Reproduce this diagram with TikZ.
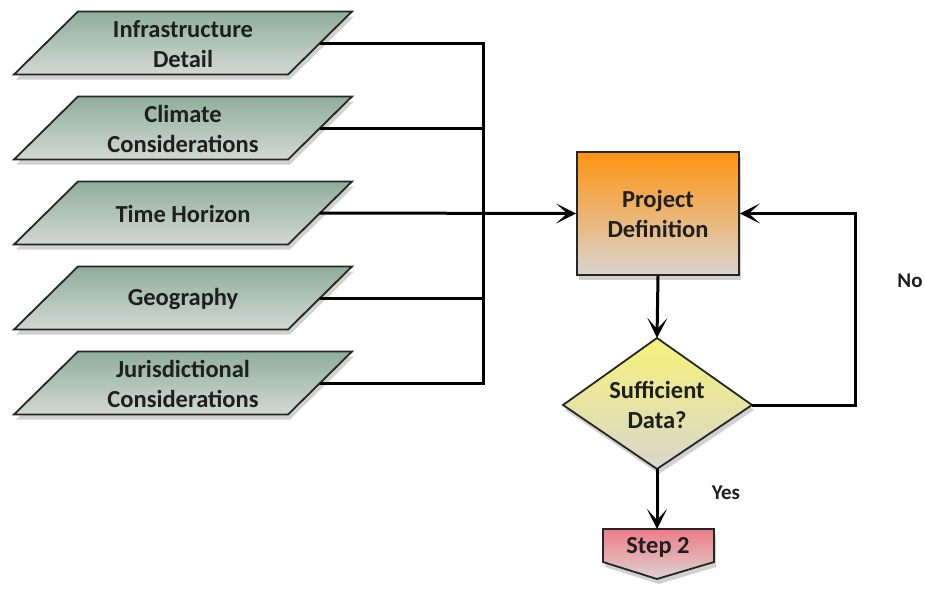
\documentclass[tikz,border=0pt]{standalone}
\usepackage{fontspec}
\setmainfont{Carlito}
\usetikzlibrary{arrows.meta,shadows}
\definecolor{pgtop}{HTML}{8FAE9C}
\definecolor{pgbot}{HTML}{D3D8D5}
\definecolor{pdtop}{HTML}{FF9410}
\definecolor{pdbot}{HTML}{D9D4D0}
\definecolor{dmtop}{HTML}{F6F27A}
\definecolor{dmbot}{HTML}{D8D6CC}
\definecolor{sttop}{HTML}{EE7C86}
\definecolor{stbot}{HTML}{DCD2D2}
\tikzset{
  lbl/.style={font=\fontsize{24.5}{30}\selectfont\bfseries, text=black!88, align=center},
  sidelbl/.style={font=\fontsize{21}{24}\selectfont\bfseries, text=black!88},
  shp/.style={draw=black!85, line width=1.8pt, line join=miter,
    drop shadow={shadow xshift=2pt, shadow yshift=-5pt, opacity=0.3, fill=black!60}},
  inshape/.style={shp, top color=pgtop, bottom color=pgbot},
  conn/.style={draw=black, line width=3pt},
  arr/.style={conn, -{Stealth[length=20pt,width=20pt,inset=11pt]}}
}
\begin{document}
\begin{tikzpicture}[x=1pt,y=-1pt]
\useasboundingbox (0,0) rectangle (925,589);
% input parallelograms
\foreach \yc/\nm in {43/a,128/b,213/c,298/d,383/e}{
  \path[inshape] (78,\yc-31.5) -- (352,\yc-31.5) -- (288,\yc+31.5) -- (14,\yc+31.5) -- cycle;
  \coordinate (\nm e) at (320,\yc);
}
\node[lbl] (a) at (183,44) {Infrastructure\\Detail};
\node[lbl] (b) at (183,129) {Climate\\Considerations};
\node[lbl] (c) at (183,214) {Time Horizon};
\node[lbl] (d) at (183,299) {Geography};
\node[lbl] (e) at (183,384) {Jurisdictional\\Considerations};
% project definition
\node[shp, top color=pdtop, bottom color=pdbot, minimum width=162pt, minimum height=123pt, inner sep=0pt, lbl] (pd) at (658,213.5) {Project\\Definition};
% diamond
\path[shp, top color=dmtop, bottom color=dmbot] (657,338) -- (752,405) -- (657,469) -- (563,405) -- cycle;
\node[lbl] (sd) at (657,405) {Sufficient\\Data?};
\coordinate (sdt) at (657,338);
\coordinate (sdr) at (752,405);
\coordinate (sdb) at (657,469);
% step 2
\path[shp, top color=sttop, bottom color=stbot] (603,529) -- (714,529) -- (714,562) -- (657,579) -- (603,562) -- cycle;
\node[lbl] (s2) at (658,547) {Step 2};
\coordinate (s2t) at (657,529);
% bus
\coordinate (bt) at (483,43);
\coordinate (bb) at (483,383);
\draw[conn] (ae) -- (bt) -- (bb) -- (ee);
\draw[conn] (be) -- (483,128);
\draw[conn] (de) -- (483,298);
\draw[arr] (ce) -- (pd.west);
\draw[arr] (pd.south) -- (sdt);
\draw[arr] (sdr) -- (855,405) -- (855,213.5) -- (pd.east);
\draw[arr] (sdb) -- (s2t);
\node[sidelbl] (no) at (910,281) {No};
\node[sidelbl] (yes) at (726,493) {Yes};
\end{tikzpicture}
\end{document}
